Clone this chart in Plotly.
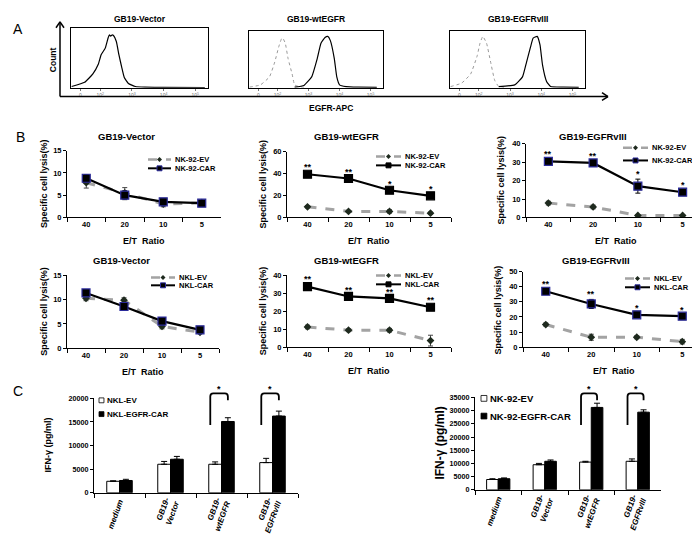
import plotly.graph_objects as go

W, H = 700, 534
FONT = "Liberation Sans, Arial, sans-serif"

# ---------------- DATA ----------------
# Panel A: flow histograms (x = log10 fluorescence, y = % of max count)
hist_tickvals = [1.38, 2, 3, 4, 5]
hist_ticktext = ["0", "10<sup>2</sup>", "10<sup>3</sup>", "10<sup>4</sup>", "10<sup>5</sup>"]

vec_solid_x = [1.10, 1.51, 1.77, 1.94, 2.03, 2.16, 2.25, 2.29, 2.33, 2.38, 2.42, 2.51, 2.59, 2.68, 2.76, 2.89, 3.11, 3.41, 4.0, 5.3]
vec_solid_y = [2, 9, 23, 39, 55, 66, 83, 88, 86, 88, 87, 77, 55, 34, 17, 7, 2, 1, 0.5, 0]

wt_iso_x = [1.10, 1.45, 1.74, 1.91, 2.04, 2.13, 2.17, 2.25, 2.34, 2.47, 2.55, 2.68, 2.9]
wt_iso_y = [1, 5, 19, 45, 72, 86, 87, 78, 51, 24, 5, 2, 0.5]
wt_solid_x = [2.55, 2.85, 3.10, 3.28, 3.40, 3.53, 3.62, 3.70, 3.83, 3.91, 4.00, 4.21, 4.6, 5.2]
wt_solid_y = [1, 4, 19, 51, 78, 88, 90, 83, 51, 19, 5, 2, 1, 0.5]

viii_iso_x = [1.10, 1.45, 1.74, 1.95, 2.04, 2.13, 2.25, 2.38, 2.51, 2.64, 2.9]
viii_iso_y = [2, 8, 24, 56, 78, 90, 78, 45, 13, 2, 0.5]
viii_solid_x = [2.64, 3.15, 3.40, 3.53, 3.66, 3.74, 3.87, 3.96, 4.04, 4.17, 4.30, 4.7, 5.2]
viii_solid_y = [2, 5, 19, 45, 72, 87, 90, 75, 40, 11, 2, 1, 0.5]

# Panel B: specific lysis (%) by E/T ratio
et_ratio = ["40", "20", "10", "5"]

nk92_vec_ev = [7.8, 5.5, 3.0, 3.3]
nk92_vec_ev_err = [1.2, 1.2, 0.6, 0.4]
nk92_vec_car = [8.8, 5.0, 3.5, 3.2]
nk92_vec_car_err = [0.8, 1.0, 0.5, 0.6]

nk92_wt_ev = [9.7, 5.5, 5.5, 3.9]
nk92_wt_ev_err = [1.0, 1.0, 1.5, 1.0]
nk92_wt_car = [39.4, 35.5, 24.8, 19.7]
nk92_wt_car_err = [2.0, 1.5, 1.5, 1.5]
nk92_wt_sig = ["**", "**", "*", "*"]

nk92_viii_ev = [7.8, 5.7, 1.1, 1.1]
nk92_viii_ev_err = [1.0, 1.0, 0.5, 0.5]
nk92_viii_car = [30.4, 29.6, 17.0, 13.7]
nk92_viii_car_err = [1.5, 1.0, 3.8, 1.0]
nk92_viii_sig = ["**", "**", "*", "*"]

nkl_vec_ev = [10.3, 9.9, 4.5, 3.3]
nkl_vec_ev_err = [0.5, 0.5, 0.5, 0.3]
nkl_vec_car = [11.4, 8.6, 5.6, 3.8]
nkl_vec_car_err = [0.5, 0.8, 0.3, 0.3]

nkl_wt_ev = [11.3, 9.5, 9.5, 3.7]
nkl_wt_ev_err = [1.0, 0.8, 1.0, 3.0]
nkl_wt_car = [33.8, 28.3, 27.2, 22.3]
nkl_wt_car_err = [1.5, 1.0, 1.0, 1.0]
nkl_wt_sig = ["**", "**", "**", "**"]

nkl_viii_ev = [15.0, 6.6, 6.6, 3.7]
nkl_viii_ev_err = [1.0, 2.0, 1.0, 1.5]
nkl_viii_car = [37.0, 28.6, 21.4, 20.5]
nkl_viii_car_err = [1.5, 3.0, 1.0, 1.0]
nkl_viii_sig = ["**", "**", "*", "*"]

# Panel C: IFN-gamma (pg/ml)
ifn_cats = ["medium", "GB19-<br>Vector", "GB19-<br>wtEGFR", "GB19-<br>EGFRvIII"]
nkl_ifn_ev = [2430, 6040, 6040, 6390]
nkl_ifn_ev_err = [100, 600, 500, 900]
nkl_ifn_car = [2600, 7100, 15100, 16250]
nkl_ifn_car_err = [250, 600, 800, 1050]
nk92_ifn_ev = [3900, 9500, 10500, 10800]
nk92_ifn_ev_err = [300, 500, 300, 900]
nk92_ifn_car = [4200, 10800, 31200, 29400]
nk92_ifn_car_err = [300, 500, 1600, 900]
ifn_sig_groups = [2, 3]   # categories with significance brackets (*)

# ---------------- HELPERS ----------------
def fx(v):
    return v / W

def fy(v):
    return 1 - v / H

def ids(n):
    s = "" if n == 1 else str(n)
    return "xaxis" + s, "yaxis" + s, "x" + s, "y" + s

fig = go.Figure()
layout = dict(width=W, height=H, margin=dict(l=0, r=0, t=0, b=0),
              paper_bgcolor="white", plot_bgcolor="white", showlegend=False,
              bargap=0.5, bargroupgap=0, barmode="group")
annotations = []
shapes = []

def text(x, y, s, size, bold=True, angle=0, xanchor="center", color="black", italic=False):
    f = dict(family=FONT, size=size, color=color)
    if bold:
        f["weight"] = "bold"
    if italic:
        f["style"] = "italic"
    annotations.append(dict(x=fx(x), y=fy(y), xref="paper", yref="paper", text=s,
                            showarrow=False, font=f, textangle=angle,
                            xanchor=xanchor, yanchor="middle"))

def seg(x0, y0, x1, y1, color="black", width=1, dash="solid"):
    shapes.append(dict(type="line", xref="paper", yref="paper", x0=fx(x0), y0=fy(y0),
                       x1=fx(x1), y1=fy(y1), line=dict(color=color, width=width, dash=dash)))

def P(x, y):
    return f"{fx(x):.5f},{fy(y):.5f}"

def bfont(size, italic=False):
    f = dict(family=FONT, size=size, color="black", weight="bold")
    if italic:
        f["style"] = "italic"
    return f

# ---------------- PANEL A ----------------
hist_boxes = [(1, (63, 200), (16, 77), "GB19-Vector"),
              (2, (241, 375), (19, 77), "GB19-wtEGFR"),
              (3, (442, 577), (19, 77), "GB19-EGFRvIII")]
for n, (xl, xr), (yt, yb), title in hist_boxes:
    xa, ya, xr_, yr_ = ids(n)
    layout[xa] = dict(domain=[fx(xl), fx(xr)], anchor=yr_, range=[1.08, 5.4],
                      showline=True, mirror=True, linecolor="black", linewidth=1,
                      ticks="outside", ticklen=2, tickcolor="#777", tickvals=hist_tickvals,
                      ticktext=hist_ticktext, tickfont=dict(family=FONT, size=5, color="#777"),
                      showgrid=False, zeroline=False, fixedrange=True)
    layout[ya] = dict(domain=[fy(yb), fy(yt)], anchor=xr_, range=[0, 100],
                      showline=True, mirror=True, linecolor="black", linewidth=1,
                      showticklabels=False, ticks="", showgrid=False, zeroline=False)
    text((xl + xr) / 2, 7, title, 8.5)

def hist(n, x, y, dashed):
    _, _, xr_, yr_ = ids(n)
    fig.add_trace(go.Scatter(x=x, y=y, xaxis=xr_, yaxis=yr_, mode="lines",
                             line=dict(color="#999" if dashed else "black",
                                       width=1 if dashed else 1.2,
                                       dash="dot" if dashed else "solid",
                                       shape="spline", smoothing=0.4),
                             hoverinfo="skip"))

hist(1, vec_solid_x, vec_solid_y, False)
hist(2, wt_iso_x, wt_iso_y, True)
hist(2, wt_solid_x, wt_solid_y, False)
hist(3, viii_iso_x, viii_iso_y, True)
hist(3, viii_solid_x, viii_solid_y, False)

# axes arrows
seg(52, 86, 600, 86, width=1.5)
seg(594, 82, 600, 86, width=1.5)
seg(594, 90, 600, 86, width=1.5)
seg(52, 86, 52, 10, width=1.5)
seg(48, 16, 52, 10, width=1.5)
seg(56, 16, 52, 10, width=1.5)
text(45, 48, "Count", 8.5, angle=-90)
text(323, 98, "EGFR-APC", 8.5)
text(10, 17, "A", 14, bold=False)

# ---------------- PANEL B ----------------
line_charts = [
    (4, (59, 213), (141, 209), 15, 5, "GB19-Vector", 118, 127, 36,
     nk92_vec_ev, nk92_vec_ev_err, nk92_vec_car, nk92_vec_car_err, None,
     ("NK-92-EV", "NK-92-CAR"), (140, 163, 150, 159), "#2b2b9a"),
    (5, (279, 443), (142, 209), 60, 20, "GB19-wtEGFR", 338, 127, 255,
     nk92_wt_ev, nk92_wt_ev_err, nk92_wt_car, nk92_wt_car_err, nk92_wt_sig,
     ("NK-92-EV", "NK-92-CAR"), (368, 393, 147, 156), "black"),
    (6, (518, 697), (134, 209), 40, 10, "GB19-EGFRvIII", 585, 127, 493,
     nk92_viii_ev, nk92_viii_ev_err, nk92_viii_car, nk92_viii_car_err, nk92_viii_sig,
     ("NK-92-EV", "NK-92-CAR"), (615, 640, 138, 151), "#2b2b9a"),
    (7, (59, 211), (268, 342), 15, 5, "GB19-Vector", 113, 253, 36,
     nkl_vec_ev, nkl_vec_ev_err, nkl_vec_car, nkl_vec_car_err, None,
     ("NKL-EV", "NKL-CAR"), (143, 167, 270, 278), "#2b2b9a"),
    (8, (279, 443), (268, 341), 40, 10, "GB19-wtEGFR", 338, 253, 255,
     nkl_wt_ev, nkl_wt_ev_err, nkl_wt_car, nkl_wt_car_err, nkl_wt_sig,
     ("NKL-EV", "NKL-CAR"), (368, 393, 268, 277), "black"),
    (9, (515, 697), (264, 341), 50, 10, "GB19-EGFRvIII", 588, 253, 490,
     nkl_viii_ev, nkl_viii_ev_err, nkl_viii_car, nkl_viii_car_err, nkl_viii_sig,
     ("NKL-EV", "NKL-CAR"), (617, 642, 271, 280), "#2b2b9a"),
]

for (n, (xl, xr), (yt, yb), ymax, dtick, title, tx, ty, ylx,
     ev, ev_err, car, car_err, sig, names, (lx0, lx1, ly0, ly1), edge) in line_charts:
    xa, ya, xr_, yr_ = ids(n)
    layout[xa] = dict(domain=[fx(xl), fx(xr)], anchor=yr_, type="category",
                      categoryorder="array", categoryarray=et_ratio, range=[-0.5, 3.5],
                      tickson="boundaries", ticks="outside", ticklen=4, tickcolor="black",
                      showline=True, linecolor="black", linewidth=1,
                      tickfont=bfont(7.5), showgrid=False, zeroline=False, fixedrange=True)
    layout[ya] = dict(domain=[fy(yb), fy(yt)], anchor=xr_, range=[0, ymax], dtick=dtick,
                      ticks="outside", ticklen=3, tickcolor="black", showline=True,
                      linecolor="black", linewidth=1, tickfont=bfont(7.5),
                      showgrid=False, zeroline=False, fixedrange=True)
    fig.add_trace(go.Scatter(x=et_ratio, y=ev, xaxis=xr_, yaxis=yr_, mode="lines+markers",
                             line=dict(color="#a3a3a3", width=3, dash="dash"),
                             marker=dict(symbol="diamond", size=6, color="#1e2a1e"),
                             error_y=dict(type="data", array=ev_err, color="#444",
                                          thickness=1, width=2.5)))
    fig.add_trace(go.Scatter(x=et_ratio, y=car, xaxis=xr_, yaxis=yr_, mode="lines+markers",
                             line=dict(color="black", width=2.2),
                             marker=dict(symbol="square", size=8, color="black",
                                         line=dict(color=edge, width=1.2)),
                             error_y=dict(type="data", array=car_err, color="black",
                                          thickness=1, width=2.5)))
    if sig:
        for i, (v, e, s) in enumerate(zip(car, car_err, sig)):
            annotations.append(dict(x=i, y=v + e, xref=xr_, yref=yr_, text=s,
                                    showarrow=False, font=bfont(9), xanchor="center",
                                    yanchor="bottom", yshift=-2))
    text(tx, ty, title, 9.5)
    text((xl + xr) / 2, yb + 24, "E/T  Ratio", 9)
    text(ylx, (yt + yb) / 2, "Specific cell lysis(%)", 9, angle=-90)
    # legend glyphs
    xm = (lx0 + lx1) / 2
    seg(lx0, ly0, lx1, ly0, color="#a3a3a3", width=2.5, dash="dash")
    shapes.append(dict(type="path", xref="paper", yref="paper",
                       path=f"M{P(xm, ly0 - 2.5)} L{P(xm + 2.5, ly0)} L{P(xm, ly0 + 2.5)} L{P(xm - 2.5, ly0)} Z",
                       fillcolor="#1e2a1e", line=dict(width=0)))
    seg(lx0, ly1, lx1, ly1, color="black", width=2)
    shapes.append(dict(type="rect", xref="paper", yref="paper",
                       x0=fx(xm - 2.5), x1=fx(xm + 2.5), y0=fy(ly1 + 2.5), y1=fy(ly1 - 2.5),
                       fillcolor="black", line=dict(color=edge, width=1)))
    text(lx1 + 2, ly0, names[0], 7.5, xanchor="left")
    text(lx1 + 2, ly1, names[1], 7.5, xanchor="left")

text(12, 127, "B", 14, bold=False)

# ---------------- PANEL C ----------------
bar_charts = [
    (10, (86, 290), (393, 489), 20000, nkl_ifn_ev, nkl_ifn_ev_err, nkl_ifn_car, nkl_ifn_car_err,
     ("NKL-EV", "NKL-EGFR-CAR"), 8, (91, 395, 409), 40, 9, 7.2),
    (11, (467, 653), (392, 486), 35000, nk92_ifn_ev, nk92_ifn_ev_err, nk92_ifn_car, nk92_ifn_car_err,
     ("NK-92-EV", "NK-92-EGFR-CAR"), 9.5, (473, 393, 411), 432, 12, 7.2),
]
for (n, (xl, xr), (yt, yb), ymax, ev, ev_err, car, car_err, names, lfs,
     (sqx, sy0, sy1), ylx, ylfs, tfs) in bar_charts:
    xa, ya, xr_, yr_ = ids(n)
    layout[xa] = dict(domain=[fx(xl), fx(xr)], anchor=yr_, type="category",
                      categoryorder="array", categoryarray=ifn_cats, range=[-0.5, 3.5],
                      tickson="boundaries", ticks="outside", ticklen=4, tickcolor="black",
                      showline=True, linecolor="black", linewidth=1, tickangle=-70,
                      tickfont=bfont(8, italic=True), showgrid=False, zeroline=False,
                      fixedrange=True)
    layout[ya] = dict(domain=[fy(yb), fy(yt)], anchor=xr_, range=[0, ymax], dtick=5000,
                      tickformat="d", ticks="outside", ticklen=3, tickcolor="black",
                      showline=True, linecolor="black", linewidth=1, tickfont=bfont(tfs),
                      showgrid=False, zeroline=False, fixedrange=True)
    fig.add_trace(go.Bar(x=ifn_cats, y=ev, xaxis=xr_, yaxis=yr_, offsetgroup=f"ev{n}",
                         marker=dict(color="white", line=dict(color="black", width=1)),
                         error_y=dict(type="data", array=ev_err, arrayminus=[0] * len(ev),
                                      symmetric=False, color="black", thickness=1, width=3)))
    fig.add_trace(go.Bar(x=ifn_cats, y=car, xaxis=xr_, yaxis=yr_, offsetgroup=f"car{n}",
                         marker=dict(color="black", line=dict(color="black", width=1)),
                         error_y=dict(type="data", array=car_err, arrayminus=[0] * len(car),
                                      symmetric=False, color="black", thickness=1, width=3)))
    text(ylx, (yt + yb) / 2, "IFN-γ (pg/ml)", ylfs, angle=-90)
    s = lfs * 0.62
    shapes.append(dict(type="rect", xref="paper", yref="paper", x0=fx(sqx), x1=fx(sqx + s),
                       y0=fy(sy0 + s / 2), y1=fy(sy0 - s / 2), fillcolor="white",
                       line=dict(color="black", width=0.8)))
    shapes.append(dict(type="rect", xref="paper", yref="paper", x0=fx(sqx), x1=fx(sqx + s),
                       y0=fy(sy1 + s / 2), y1=fy(sy1 - s / 2), fillcolor="black",
                       line=dict(color="black", width=0.8)))
    text(sqx + s + 1, sy0, names[0], lfs, xanchor="left")
    text(sqx + s + 1, sy1, names[1], lfs, xanchor="left")
    cw = (xr - xl) / len(ifn_cats)
    for gi in ifn_sig_groups:
        cx = xl + (gi + 0.5) * cw
        bx0, bx1 = cx - 0.22 * cw, cx + 0.125 * cw
        ybot, ytop, yr = 420, 388, 395
        path = (f"M{P(bx0, ybot)} L{P(bx0, ytop + 3)} Q{P(bx0, ytop)} {P(bx0 + 3, ytop)} "
                f"L{P(bx1 - 3, ytop)} Q{P(bx1, ytop)} {P(bx1, ytop + 3)} L{P(bx1, yr)}")
        shapes.append(dict(type="path", xref="paper", yref="paper", path=path,
                           line=dict(color="black", width=1.8)))
        text((bx0 + bx1) / 2, 383, "*", 9)

text(10, 385, "C", 14, bold=False)

layout["annotations"] = annotations
layout["shapes"] = shapes
fig.update_layout(**layout)
fig.write_html("out.html")
